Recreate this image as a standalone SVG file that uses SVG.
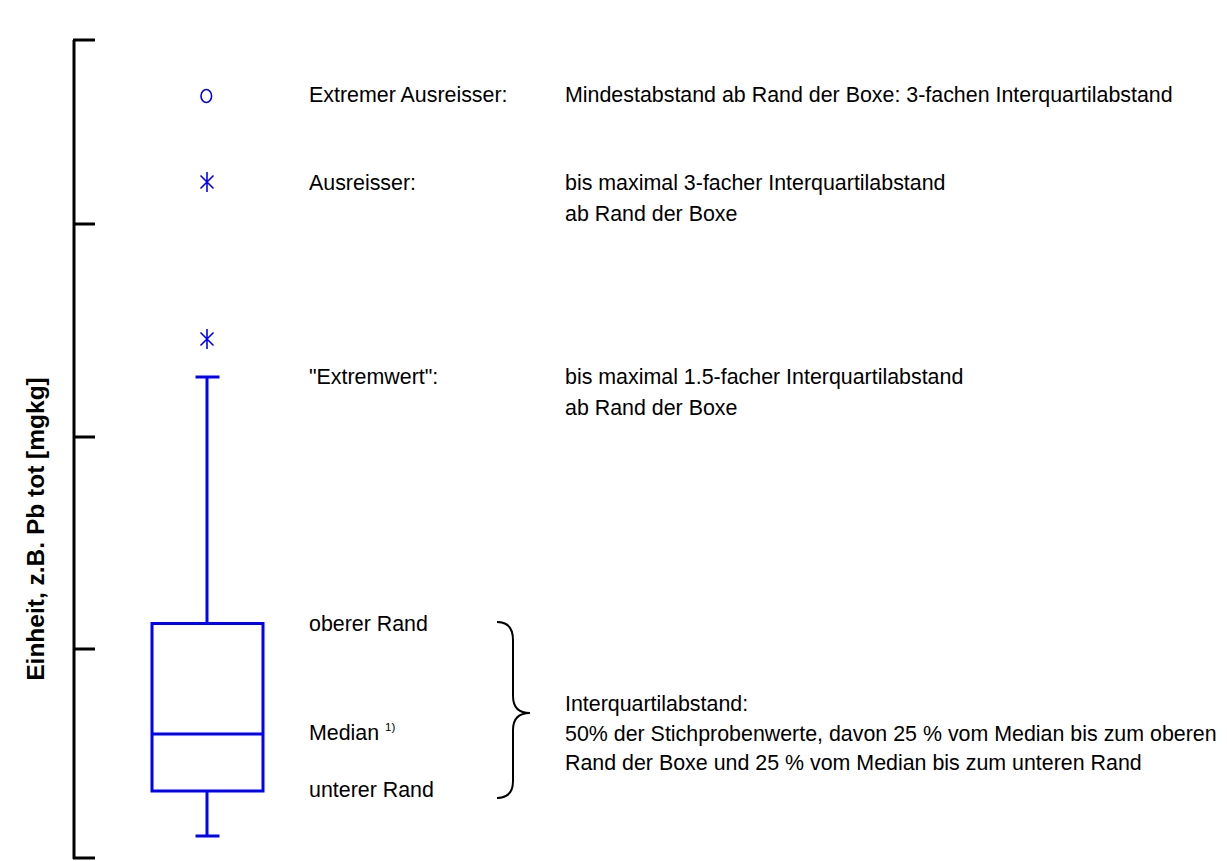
<svg xmlns="http://www.w3.org/2000/svg" width="1227" height="861" viewBox="0 0 1227 861">
<style>
.t{font-family:"Liberation Sans",Arial,sans-serif;font-size:21.4px;fill:#000}
.ax{stroke:#000;stroke-width:3;fill:none}
.bl{stroke:#0000FF;stroke-width:3;fill:none}
.sym{stroke:#0000FF;stroke-width:1.6;fill:none}
.br{stroke:#000;stroke-width:2;fill:none}
</style>
<rect width="1227" height="861" fill="#fff"/>
<g id="axis">
<path class="ax" d="M74,40 V859 M73,40 H95 M73,224 H95 M73,437 H95 M73,649 H95 M73,858 H95"/>
<text class="t" style="font-weight:bold;font-size:24.5px" transform="translate(44,529) rotate(-90)" text-anchor="middle">Einheit, z.B. Pb tot [mgkg]</text>
</g>
<g id="extreme-outlier">
<ellipse class="sym" cx="206.3" cy="96" rx="5.3" ry="6.5"/>
<text class="t" x="309" y="102">Extremer Ausreisser:</text>
<text class="t" x="565" y="102">Mindestabstand ab Rand der Boxe: 3-fachen Interquartilabstand</text>
</g>
<g id="outlier">
<path class="sym" d="M207,172 V192 M200.5,175.5 L213.5,188.5 M213.5,175.5 L200.5,188.5"/>
<text class="t" x="309" y="190">Ausreisser:</text>
<text class="t" x="565" y="190">bis maximal 3-facher Interquartilabstand</text>
<text class="t" x="565" y="221">ab Rand der Boxe</text>
</g>
<g id="extreme-value">
<path class="sym" d="M207,329 V349 M200.5,332.5 L213.5,345.5 M213.5,332.5 L200.5,345.5"/>
<text class="t" x="309" y="384">"Extremwert":</text>
<text class="t" x="565" y="384">bis maximal 1.5-facher Interquartilabstand</text>
<text class="t" x="565" y="415">ab Rand der Boxe</text>
</g>
<g id="boxplot">
<path class="bl" d="M207,377 V623 M195.5,377 H219.5 M207,791 V836 M195.5,836 H219.5"/>
<rect class="bl" x="152" y="623.5" width="111" height="167.5"/>
<path class="bl" d="M152,734 H263"/>
</g>
<g id="box-labels">
<text class="t" x="309" y="740">Median <tspan font-size="11.5" dy="-9">1)</tspan></text>
<text class="t" x="309" y="631">oberer Rand</text>
<text class="t" x="309" y="797">unterer Rand</text>
</g>
<g id="connectors">
<path class="br" d="M497,622 Q513,622 513,640 L513,696 Q513,713 530,713 Q513,713 513,730 L513,781 Q513,798 497,798"/>
</g>
<g id="iqr">
<text class="t" x="565" y="711">Interquartilabstand:</text>
<text class="t" x="565" y="741">50% der Stichprobenwerte, davon 25 % vom Median bis zum oberen</text>
<text class="t" x="565" y="770">Rand der Boxe und 25 % vom Median bis zum unteren Rand</text>
</g>
</svg>
